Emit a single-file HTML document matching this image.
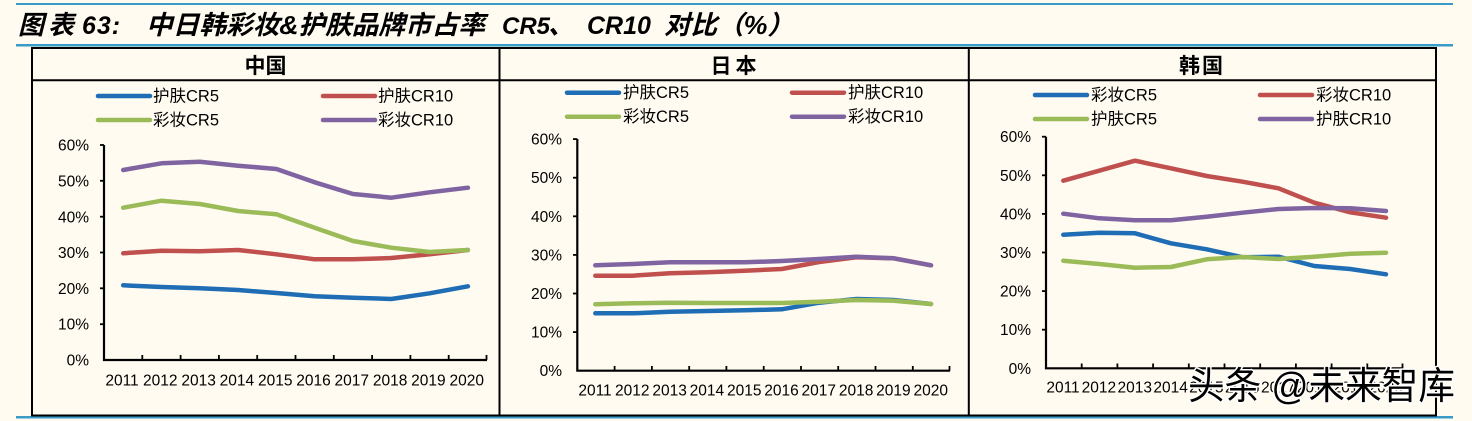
<!DOCTYPE html>
<html><head><meta charset="utf-8"><style>
html,body{margin:0;padding:0;background:#fffbf1;}
svg{display:block;}
text{font-family:"Liberation Sans","Noto Sans CJK SC",sans-serif;fill:#000;}
.t{font-size:15.5px;}
.lg{font-size:16.5px;}
.hd{font-size:21px;font-weight:bold;}
.s{fill:none;stroke-width:4.5;stroke-linejoin:round;stroke-linecap:round;}
.ax{stroke:#000;stroke-width:2.2;fill:none;}
.tk{stroke:#000;stroke-width:1.8;}
</style></head><body>
<svg width="1472" height="421" viewBox="0 0 1472 421" xmlns="http://www.w3.org/2000/svg">
<rect width="1472" height="421" fill="#fffbf1"/>
<!-- title rules -->
<rect x="16" y="3" width="1437" height="2" fill="#3a9bc9"/>
<rect x="16" y="44" width="1437" height="2.5" fill="#3a9bc9"/>
<rect x="16" y="416" width="1437" height="2.5" fill="#3a9bc9"/>
<!-- title -->
<g font-style="italic" font-weight="bold" font-size="26">
<text x="18" y="34" font-family="'Noto Sans CJK SC',sans-serif" letter-spacing="4">图表</text>
<text x="82" y="34" font-size="25" font-family="'Liberation Sans',sans-serif" letter-spacing="1">63:</text>
<text x="146" y="34" font-family="'Noto Sans CJK SC',sans-serif" textLength="339" lengthAdjust="spacingAndGlyphs">中日韩彩妆&amp;护肤品牌市占率</text>
<text x="502" y="34" font-size="24" font-family="'Liberation Sans',sans-serif">CR5</text>
<text x="548" y="34" font-family="'Noto Sans CJK SC',sans-serif">、</text>
<text x="587" y="34" font-size="25" font-family="'Liberation Sans',sans-serif">CR10</text>
<text x="664" y="34" font-family="'Noto Sans CJK SC',sans-serif" textLength="130" lengthAdjust="spacingAndGlyphs">对比（%）</text>
</g>
<!-- table -->
<rect x="32" y="48" width="1404" height="367.5" fill="none" stroke="#000" stroke-width="2"/>
<line x1="32" y1="80.3" x2="1436" y2="80.3" stroke="#000" stroke-width="2"/>
<line x1="499.5" y1="48" x2="499.5" y2="416" stroke="#000" stroke-width="2"/>
<line x1="968.8" y1="48" x2="968.8" y2="416" stroke="#000" stroke-width="2"/>
<text class="hd" x="265.5" y="73" text-anchor="middle" font-family="'Noto Sans CJK SC',sans-serif">中国</text>
<text class="hd" x="735.5" y="73" text-anchor="middle" font-family="'Noto Sans CJK SC',sans-serif" letter-spacing="4">日本</text>
<text class="hd" x="1202" y="73" text-anchor="middle" font-family="'Noto Sans CJK SC',sans-serif" letter-spacing="2">韩国</text>

<!-- ===== CHINA ===== -->
<g>
<line class="s" x1="98" y1="96" x2="150" y2="96" stroke="#1f6db5"/>
<text class="lg" x="153" y="101.5">护肤CR5</text>
<line class="s" x1="323" y1="96" x2="375" y2="96" stroke="#c0504d"/>
<text class="lg" x="378" y="101.5">护肤CR10</text>
<line class="s" x1="98" y1="120" x2="150" y2="120" stroke="#9bbb59"/>
<text class="lg" x="153" y="125.5">彩妆CR5</text>
<line class="s" x1="323" y1="120" x2="375" y2="120" stroke="#8064a2"/>
<text class="lg" x="378" y="125.5">彩妆CR10</text>

<g class="t" text-anchor="end">
<text x="89" y="150.5">60%</text><text x="89" y="186.5">50%</text><text x="89" y="222.5">40%</text>
<text x="89" y="258">30%</text><text x="89" y="294">20%</text><text x="89" y="329.5">10%</text><text x="89" y="365.5">0%</text>
</g>
<g class="tk">
<line x1="100" y1="145" x2="104" y2="145"/><line x1="100" y1="180.8" x2="104" y2="180.8"/><line x1="100" y1="216.7" x2="104" y2="216.7"/>
<line x1="100" y1="252.5" x2="104" y2="252.5"/><line x1="100" y1="288.3" x2="104" y2="288.3"/><line x1="100" y1="324.2" x2="104" y2="324.2"/>
<line x1="142.3" y1="355" x2="142.3" y2="360"/><line x1="180.6" y1="355" x2="180.6" y2="360"/><line x1="218.9" y1="355" x2="218.9" y2="360"/>
<line x1="257.2" y1="355" x2="257.2" y2="360"/><line x1="295.5" y1="355" x2="295.5" y2="360"/><line x1="333.8" y1="355" x2="333.8" y2="360"/>
<line x1="372.1" y1="355" x2="372.1" y2="360"/><line x1="410.4" y1="355" x2="410.4" y2="360"/><line x1="448.7" y1="355" x2="448.7" y2="360"/>
<line x1="486.5" y1="355" x2="486.5" y2="360"/>
</g>
<polyline class="ax" points="104,145 104,360 487,360"/>
<g class="t" text-anchor="middle">
<text x="122" y="385.5">2011</text><text x="160.3" y="385.5">2012</text><text x="198.6" y="385.5">2013</text><text x="236.9" y="385.5">2014</text><text x="275.2" y="385.5">2015</text>
<text x="313.5" y="385.5">2016</text><text x="351.8" y="385.5">2017</text><text x="390.1" y="385.5">2018</text><text x="428.4" y="385.5">2019</text><text x="466.7" y="385.5">2020</text>
</g>
<polyline class="s" stroke="#1f6db5" points="123.2,285.3 161.5,287 199.8,288.3 238.1,290 276.4,293 314.7,296.3 353,297.7 391.3,299 429.6,293.3 467.9,286.3"/>
<polyline class="s" stroke="#c0504d" points="123.2,253.3 161.5,250.7 199.8,251.3 238.1,250 276.4,254.3 314.7,259.3 353,259.3 391.3,258 429.6,254.3 467.9,250"/>
<polyline class="s" stroke="#9bbb59" points="123.2,207.7 161.5,200.7 199.8,204 238.1,211 276.4,214.3 314.7,227.7 353,241 391.3,247.7 429.6,252 467.9,250"/>
<polyline class="s" stroke="#8064a2" points="123.2,170 161.5,163.3 199.8,161.7 238.1,165.7 276.4,169 314.7,182.3 353,194 391.3,197.7 429.6,192.3 467.9,187.7"/>
</g>

<!-- ===== JAPAN ===== -->
<g>
<line class="s" x1="567" y1="92.7" x2="619" y2="92.7" stroke="#1f6db5"/>
<text class="lg" x="623" y="98.2">护肤CR5</text>
<line class="s" x1="792" y1="92.7" x2="844" y2="92.7" stroke="#c0504d"/>
<text class="lg" x="848" y="98.2">护肤CR10</text>
<line class="s" x1="567" y1="116.7" x2="619" y2="116.7" stroke="#9bbb59"/>
<text class="lg" x="623" y="122.2">彩妆CR5</text>
<line class="s" x1="792" y1="116.7" x2="844" y2="116.7" stroke="#8064a2"/>
<text class="lg" x="848" y="122.2">彩妆CR10</text>

<g class="t" text-anchor="end">
<text x="562" y="144.5">60%</text><text x="562" y="183.2">50%</text><text x="562" y="221.8">40%</text>
<text x="562" y="260.5">30%</text><text x="562" y="299">20%</text><text x="562" y="337.5">10%</text><text x="562" y="376.2">0%</text>
</g>
<g class="tk">
<line x1="573" y1="139.1" x2="577.3" y2="139.1"/><line x1="573" y1="177.7" x2="577.3" y2="177.7"/><line x1="573" y1="216.3" x2="577.3" y2="216.3"/>
<line x1="573" y1="254.9" x2="577.3" y2="254.9"/><line x1="573" y1="293.5" x2="577.3" y2="293.5"/><line x1="573" y1="332.1" x2="577.3" y2="332.1"/>
<line x1="614.6" y1="366" x2="614.6" y2="370.7"/><line x1="651.9" y1="366" x2="651.9" y2="370.7"/><line x1="689.2" y1="366" x2="689.2" y2="370.7"/>
<line x1="726.4" y1="366" x2="726.4" y2="370.7"/><line x1="763.7" y1="366" x2="763.7" y2="370.7"/><line x1="801" y1="366" x2="801" y2="370.7"/>
<line x1="838.2" y1="366" x2="838.2" y2="370.7"/><line x1="875.5" y1="366" x2="875.5" y2="370.7"/><line x1="912.8" y1="366" x2="912.8" y2="370.7"/>
<line x1="949.5" y1="366" x2="949.5" y2="370.7"/>
</g>
<polyline class="ax" points="577.3,139 577.3,370.7 950,370.7"/>
<g class="t" text-anchor="middle">
<text x="595" y="395.5">2011</text><text x="632.3" y="395.5">2012</text><text x="669.6" y="395.5">2013</text><text x="706.9" y="395.5">2014</text><text x="744.2" y="395.5">2015</text>
<text x="781.5" y="395.5">2016</text><text x="818.8" y="395.5">2017</text><text x="856.1" y="395.5">2018</text><text x="893.4" y="395.5">2019</text><text x="930.7" y="395.5">2020</text>
</g>
<polyline class="s" stroke="#1f6db5" points="595.3,313.3 632.6,313.3 669.9,311.7 707.2,311 744.5,310.3 781.8,309.3 819.1,302.7 856.4,299 893.7,300 931,304"/>
<polyline class="s" stroke="#c0504d" points="595.3,275.7 632.6,275.7 669.9,273.3 707.2,272.3 744.5,270.7 781.8,269 819.1,262 856.4,257.3 893.7,258.3 931,265.3"/>
<polyline class="s" stroke="#9bbb59" points="595.3,304.3 632.6,303.3 669.9,302.7 707.2,303 744.5,303 781.8,303 819.1,301.7 856.4,300 893.7,300.7 931,304"/>
<polyline class="s" stroke="#8064a2" points="595.3,265.3 632.6,264 669.9,262.3 707.2,262.3 744.5,262.3 781.8,261 819.1,259 856.4,256.7 893.7,258.3 931,265.3"/>
</g>

<!-- ===== KOREA ===== -->
<g>
<line class="s" x1="1035" y1="95" x2="1087" y2="95" stroke="#1f6db5"/>
<text class="lg" x="1091" y="100.5">彩妆CR5</text>
<line class="s" x1="1260" y1="95" x2="1312" y2="95" stroke="#c0504d"/>
<text class="lg" x="1316" y="100.5">彩妆CR10</text>
<line class="s" x1="1035" y1="119" x2="1087" y2="119" stroke="#9bbb59"/>
<text class="lg" x="1091" y="124.5">护肤CR5</text>
<line class="s" x1="1260" y1="119" x2="1312" y2="119" stroke="#8064a2"/>
<text class="lg" x="1316" y="124.5">护肤CR10</text>

<g class="t" text-anchor="end">
<text x="1031" y="142.2">60%</text><text x="1031" y="180.8">50%</text><text x="1031" y="219.4">40%</text>
<text x="1031" y="258">30%</text><text x="1031" y="296.6">20%</text><text x="1031" y="335.2">10%</text><text x="1031" y="373.8">0%</text>
</g>
<g class="tk">
<line x1="1042" y1="136.7" x2="1046" y2="136.7"/><line x1="1042" y1="175.3" x2="1046" y2="175.3"/><line x1="1042" y1="213.9" x2="1046" y2="213.9"/>
<line x1="1042" y1="252.5" x2="1046" y2="252.5"/><line x1="1042" y1="291.1" x2="1046" y2="291.1"/><line x1="1042" y1="329.7" x2="1046" y2="329.7"/>
<line x1="1081.7" y1="363.5" x2="1081.7" y2="368.3"/><line x1="1117.4" y1="363.5" x2="1117.4" y2="368.3"/><line x1="1153.1" y1="363.5" x2="1153.1" y2="368.3"/>
<line x1="1188.8" y1="363.5" x2="1188.8" y2="368.3"/><line x1="1224.5" y1="363.5" x2="1224.5" y2="368.3"/><line x1="1260.2" y1="363.5" x2="1260.2" y2="368.3"/>
<line x1="1295.9" y1="363.5" x2="1295.9" y2="368.3"/><line x1="1331.6" y1="363.5" x2="1331.6" y2="368.3"/><line x1="1367.3" y1="363.5" x2="1367.3" y2="368.3"/>
<line x1="1402.5" y1="363.5" x2="1402.5" y2="368.3"/>
</g>
<polyline class="ax" points="1046,136.7 1046,368.3 1403,368.3"/>
<g class="t" text-anchor="middle">
<text x="1063" y="392.5">2011</text><text x="1098.9" y="392.5">2012</text><text x="1134.7" y="392.5">2013</text><text x="1170.6" y="392.5">2014</text><text x="1206.4" y="392.5">2015</text>
<text x="1242.3" y="392.5">2016</text><text x="1278.2" y="392.5">2017</text><text x="1314" y="392.5">2018</text><text x="1349.9" y="392.5">2019</text><text x="1385.7" y="392.5">2020</text>
</g>
<polyline class="s" stroke="#1f6db5" points="1063.3,234.7 1099.2,232.7 1135,233.3 1170.9,243.3 1206.7,249.3 1242.6,257.3 1278.5,256.7 1314.3,266 1350.2,269 1386,274.3"/>
<polyline class="s" stroke="#c0504d" points="1063.3,180.7 1099.2,170.7 1135,160.7 1170.9,168.3 1206.7,176 1242.6,181.7 1278.5,188.3 1314.3,202.7 1350.2,212.3 1386,217.7"/>
<polyline class="s" stroke="#9bbb59" points="1063.3,260.7 1099.2,264 1135,267.7 1170.9,267 1206.7,259.3 1242.6,257 1278.5,259 1314.3,256.7 1350.2,253.7 1386,252.7"/>
<polyline class="s" stroke="#8064a2" points="1063.3,213.7 1099.2,218.3 1135,220.3 1170.9,220.3 1206.7,216.7 1242.6,212.7 1278.5,209 1314.3,208 1350.2,208.3 1386,211"/>
</g>

<!-- watermark -->
<text x="1188" y="399" font-size="38" font-family="'Noto Sans CJK SC',sans-serif" textLength="267" lengthAdjust="spacingAndGlyphs" stroke="#fff" stroke-width="3" paint-order="stroke" style="fill:#000">头条 @未来智库</text>
</svg>
</body></html>
